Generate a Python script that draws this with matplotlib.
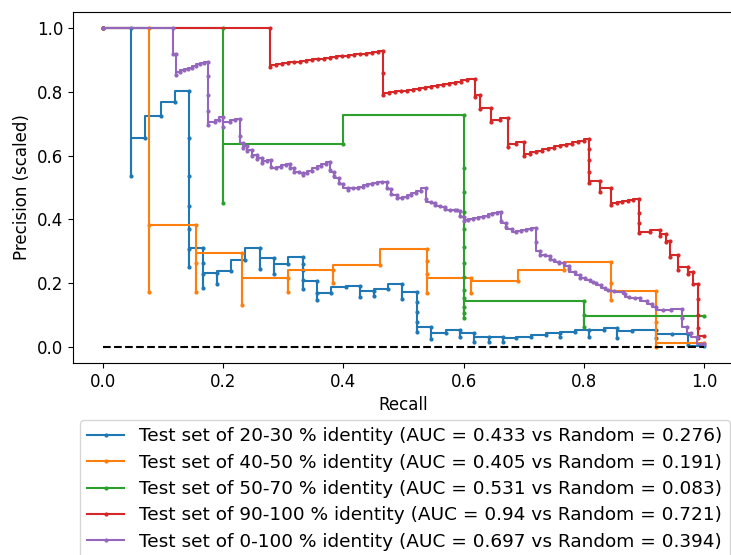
import matplotlib
matplotlib.use("Agg")
import matplotlib.pyplot as plt

# test sets (legend info)
test_sets = ["20-30", "40-50", "50-70", "90-100", "0-100"]
auc_values = ["0.433", "0.405", "0.531", "0.94", "0.697"]
random_values = ["0.276", "0.191", "0.083", "0.721", "0.394"]

# recall / scaled precision (ascending recall)
recall_20_30 = [0.0, 0.047, 0.047, 0.070, 0.096, 0.120, 0.143, 0.143, 0.143, 0.143, 0.143, 0.143, 0.143,
                0.167, 0.167, 0.167, 0.167, 0.189, 0.189, 0.213, 0.237, 0.261, 0.261, 0.285, 0.285, 0.307,
                0.332, 0.332, 0.332, 0.332, 0.332, 0.356, 0.356, 0.356, 0.380, 0.404, 0.428, 0.428, 0.451,
                0.451, 0.475, 0.498, 0.498, 0.522, 0.522, 0.522, 0.522, 0.522, 0.545, 0.545, 0.570, 0.594,
                0.594, 0.618, 0.618, 0.642, 0.642, 0.666, 0.666, 0.688, 0.713, 0.737, 0.760, 0.760, 0.785,
                0.809, 0.809, 0.833, 0.856, 0.856, 0.880, 0.921, 0.921, 0.947, 0.974, 0.974, 1.0]
precision_20_30 = [1.0, 1.0, 0.537, 0.654, 0.724, 0.769, 0.803, 0.654, 0.537, 0.443, 0.370, 0.307, 0.252,
                   0.309, 0.262, 0.230, 0.184, 0.233, 0.197, 0.238, 0.273, 0.309, 0.246, 0.278, 0.229, 0.259,
                   0.283, 0.260, 0.240, 0.210, 0.181, 0.208, 0.170, 0.147, 0.171, 0.189, 0.192, 0.156, 0.177,
                   0.160, 0.182, 0.197, 0.150, 0.173, 0.140, 0.110, 0.080, 0.048, 0.062, 0.024, 0.043, 0.055,
                   0.030, 0.043, 0.017, 0.030, 0.015, 0.032, 0.017, 0.027, 0.032, 0.038, 0.045, 0.030, 0.048,
                   0.053, 0.032, 0.053, 0.059, 0.027, 0.051, 0.053, 0.029, 0.040, 0.040, 0.006, 0.004]

recall_40_50 = [0.0, 0.0765, 0.0765, 0.0765, 0.154, 0.154, 0.154, 0.232, 0.232, 0.307, 0.307, 0.383, 0.383,
                0.461, 0.539, 0.539, 0.539, 0.539, 0.613, 0.613, 0.691, 0.767, 0.845, 0.845, 0.845, 0.921,
                0.921, 0.921, 1.0]
precision_40_50 = [1.0, 1.0, 0.382, 0.173, 0.382, 0.265, 0.173, 0.294, 0.132, 0.215, 0.173, 0.241, 0.200,
                   0.257, 0.306, 0.270, 0.230, 0.170, 0.215, 0.170, 0.208, 0.240, 0.267, 0.200, 0.147, 0.177,
                   0.080, 0.000, 0.013]

recall_50_70 = [0.0, 0.2, 0.2, 0.4, 0.6, 0.6, 0.6, 0.6, 0.6, 0.6, 0.6, 0.6, 0.6, 0.6, 0.6, 0.6, 0.6,
                0.8, 0.8, 0.8, 1.0]
precision_50_70 = [1.0, 1.0, 0.45, 0.636, 0.727, 0.561, 0.486, 0.423, 0.370, 0.313, 0.263, 0.219, 0.179,
                   0.154, 0.125, 0.107, 0.091, 0.145, 0.100, 0.064, 0.098]

recall_90_100 = [0.0, 0.278, 0.278,
                 0.288, 0.298, 0.308, 0.318, 0.328, 0.338, 0.348, 0.358, 0.368, 0.378, 0.388, 0.398, 0.408,
                 0.418, 0.428, 0.438, 0.448, 0.458, 0.466, 0.466, 0.466,
                 0.476, 0.486, 0.496, 0.506, 0.516, 0.526, 0.536, 0.546, 0.556, 0.566, 0.576, 0.586, 0.596,
                 0.606, 0.619, 0.619, 0.627, 0.627, 0.645, 0.645, 0.660, 0.674, 0.674, 0.687, 0.700, 0.700,
                 0.710, 0.720, 0.730, 0.740, 0.750, 0.760, 0.770, 0.780, 0.790, 0.800, 0.809, 0.809, 0.809,
                 0.809, 0.809, 0.827, 0.827, 0.845, 0.845, 0.855, 0.864, 0.873, 0.882, 0.892, 0.892, 0.892,
                 0.892, 0.910, 0.927, 0.927, 0.937, 0.937, 0.943, 0.943, 0.956, 0.956, 0.973, 0.973, 0.981,
                 0.981, 0.990, 0.990, 0.990, 0.990, 0.990, 1.0]
precision_90_100 = [1.0, 1.0, 0.879,
                    0.884, 0.887, 0.889, 0.892, 0.894, 0.897, 0.899, 0.902, 0.904, 0.907, 0.909, 0.911, 0.913,
                    0.915, 0.918, 0.920, 0.922, 0.925, 0.928, 0.858, 0.790,
                    0.795, 0.798, 0.801, 0.804, 0.807, 0.810, 0.813, 0.816, 0.819, 0.822, 0.825, 0.828, 0.832,
                    0.836, 0.840, 0.785, 0.790, 0.745, 0.748, 0.705, 0.712, 0.717, 0.628, 0.636, 0.642, 0.599,
                    0.606, 0.611, 0.615, 0.620, 0.624, 0.629, 0.633, 0.637, 0.642, 0.646, 0.651, 0.620, 0.585,
                    0.550, 0.513, 0.522, 0.487, 0.498, 0.445, 0.452, 0.455, 0.458, 0.460, 0.463, 0.420, 0.390,
                    0.356, 0.362, 0.367, 0.348, 0.353, 0.330, 0.333, 0.283, 0.288, 0.241, 0.252, 0.230, 0.236,
                    0.199, 0.199, 0.150, 0.100, 0.060, 0.028, 0.034]

recall_0_100 = [0.0, 0.117, 0.117, 0.122, 0.122,
                0.128, 0.135, 0.142, 0.148, 0.155, 0.162, 0.168, 0.175, 0.175, 0.175, 0.175, 0.175,
                0.186, 0.193, 0.200, 0.200, 0.211, 0.220, 0.228, 0.228, 0.233, 0.233,
                0.240, 0.240, 0.248, 0.248, 0.256, 0.256, 0.264, 0.264, 0.272, 0.280, 0.280, 0.288,
                0.296, 0.304, 0.311, 0.311, 0.318, 0.318, 0.326, 0.333, 0.333,
                0.340, 0.348, 0.356, 0.363, 0.371, 0.378,
                0.378, 0.385, 0.385, 0.393, 0.393, 0.400, 0.408, 0.408,
                0.416, 0.424, 0.432, 0.440, 0.448, 0.456, 0.464, 0.472,
                0.472, 0.480, 0.480, 0.489, 0.489, 0.497,
                0.505, 0.513, 0.521, 0.529, 0.537,
                0.537, 0.545, 0.553, 0.553, 0.561, 0.569, 0.569, 0.577, 0.585, 0.589, 0.594, 0.594, 0.600, 0.600,
                0.608, 0.616, 0.624, 0.632, 0.640, 0.648, 0.656, 0.663,
                0.663, 0.670, 0.670, 0.680, 0.688,
                0.696, 0.704, 0.713, 0.721,
                0.721, 0.727, 0.727, 0.735, 0.743, 0.743, 0.751, 0.759, 0.759, 0.767, 0.775, 0.775, 0.785,
                0.794, 0.794, 0.802, 0.810, 0.816, 0.821, 0.828, 0.835, 0.840, 0.850, 0.865, 0.868, 0.875,
                0.885, 0.894, 0.905, 0.913, 0.921, 0.932, 0.945, 0.963, 0.963, 0.971, 0.979, 0.988, 0.996, 1.0]
precision_0_100 = [1.0, 1.0, 0.920, 0.920, 0.853,
                   0.863, 0.867, 0.872, 0.876, 0.881, 0.886, 0.890, 0.894, 0.850, 0.790, 0.740, 0.696,
                   0.706, 0.712, 0.722, 0.690, 0.706, 0.712, 0.716, 0.660, 0.640, 0.625,
                   0.630, 0.615, 0.618, 0.600, 0.603, 0.590, 0.594, 0.578, 0.583, 0.586, 0.565, 0.560,
                   0.565, 0.570, 0.575, 0.560, 0.562, 0.550, 0.548, 0.545, 0.539,
                   0.545, 0.552, 0.560, 0.567, 0.574, 0.581,
                   0.555, 0.548, 0.535, 0.530, 0.515, 0.510, 0.497, 0.492,
                   0.497, 0.500, 0.503, 0.507, 0.510, 0.514, 0.516, 0.518,
                   0.500, 0.495, 0.480, 0.476, 0.468, 0.466,
                   0.471, 0.477, 0.484, 0.490, 0.497,
                   0.465, 0.455, 0.452, 0.445, 0.443, 0.440, 0.432, 0.431, 0.429, 0.429, 0.425, 0.410, 0.408, 0.396,
                   0.398, 0.401, 0.404, 0.408, 0.412, 0.416, 0.420, 0.424,
                   0.395, 0.388, 0.375, 0.370, 0.362,
                   0.365, 0.367, 0.370, 0.372,
                   0.330, 0.300, 0.288, 0.290, 0.285, 0.275, 0.272, 0.268, 0.262, 0.263, 0.255, 0.245, 0.236,
                   0.225, 0.218, 0.215, 0.210, 0.205, 0.200, 0.195, 0.185, 0.178, 0.175, 0.172, 0.165, 0.158,
                   0.155, 0.153, 0.145, 0.135, 0.125, 0.116, 0.117, 0.118, 0.090, 0.064, 0.045, 0.032, 0.011, 0.010]

recall_lists = [recall_20_30, recall_40_50, recall_50_70, recall_90_100, recall_0_100]
precision_lists = [precision_20_30, precision_40_50, precision_50_70, precision_90_100, precision_0_100]
colors = ["tab:blue", "tab:orange", "tab:green", "tab:red", "tab:purple"]


def plot_pr_curves():
    fig = plt.figure(figsize=(7.31, 5.55), dpi=100)
    ax = fig.add_axes([0.0999, 0.3459, 0.9042, 0.6324])

    for i in range(len(test_sets)):
        label = f"Test set of {test_sets[i]} % identity (AUC = {auc_values[i]} vs Random = {random_values[i]})"
        ax.plot(recall_lists[i], precision_lists[i], drawstyle="steps-pre", marker=".",
                markersize=4, lw=1.5, color=colors[i], label=label)

    # random baseline
    ax.plot([0, 1], [0, 0], "k--", lw=1.5)

    ax.set_xlim(-0.05, 1.05)
    ax.set_ylim(-0.05, 1.05)
    ax.set_xticks([0.0, 0.2, 0.4, 0.6, 0.8, 1.0])
    ax.set_yticks([0.0, 0.2, 0.4, 0.6, 0.8, 1.0])
    ax.tick_params(labelsize=12)
    ax.set_xlabel("Recall", fontsize=12)
    ax.set_ylabel("Precision (scaled)", fontsize=12)

    # legend under the plot, partly cut by the figure edge like the original
    ax.legend(loc="upper center", bbox_to_anchor=(0.554, 0.2432), bbox_transform=fig.transFigure,
              borderaxespad=0, fontsize=13.3, labelspacing=0.45)

    fig.savefig("out.png", dpi=100)


def main():
    plot_pr_curves()


if __name__ == "__main__":
    main()
